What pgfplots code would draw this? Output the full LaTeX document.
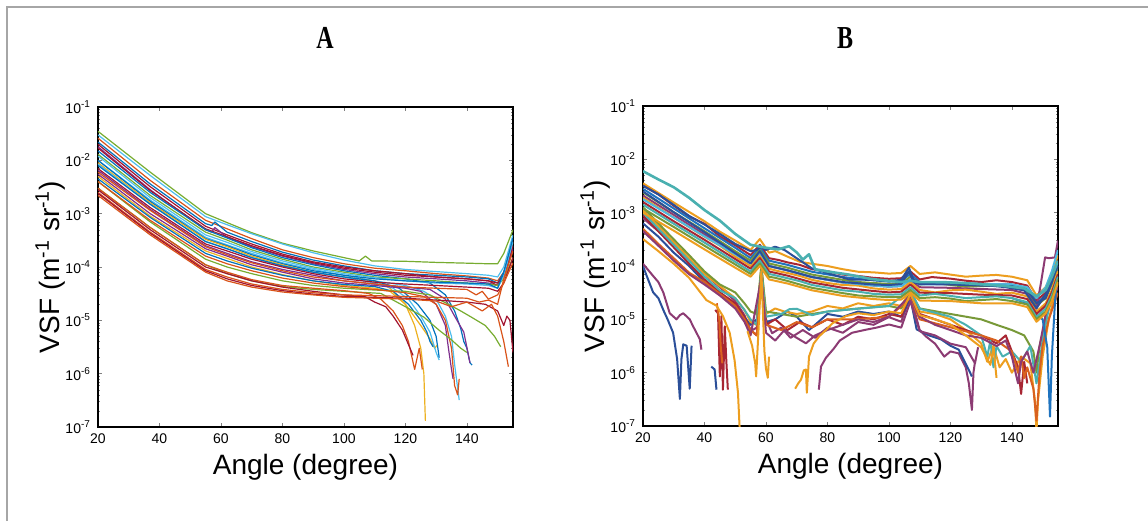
\documentclass[border=0pt]{standalone}
\usepackage{fontspec}
\setmainfont{Liberation Sans}
\newfontfamily\titlefont{Liberation Serif}
\usepackage{pgfplots}
\pgfplotsset{compat=1.18}
\pgfkeys{/pgf/number format/assume math mode=true}

% panel A: matlab default order
\definecolor{mb}{rgb}{0,0.447,0.741}
\definecolor{mo}{rgb}{0.85,0.325,0.098}
\definecolor{my}{rgb}{0.929,0.694,0.125}
\definecolor{mp}{rgb}{0.494,0.184,0.556}
\definecolor{mg}{rgb}{0.466,0.674,0.188}
\definecolor{mc}{rgb}{0.301,0.745,0.933}
\definecolor{mr}{rgb}{0.635,0.078,0.184}
% panel B: darker set
\definecolor{bdb}{rgb}{0.17,0.31,0.60}
\definecolor{bte}{rgb}{0.29,0.69,0.69}
\definecolor{bor}{rgb}{0.93,0.62,0.12}
\definecolor{bpl}{rgb}{0.55,0.23,0.45}
\definecolor{bdr}{rgb}{0.66,0.15,0.20}
\definecolor{bgr}{rgb}{0.47,0.60,0.22}
\definecolor{blb}{rgb}{0.30,0.72,0.88}
\definecolor{bmb}{rgb}{0.12,0.45,0.75}
\definecolor{bor2}{rgb}{0.85,0.38,0.12}

\pgfplotsset{
  vsf/.style={
    width=207.5pt, height=160pt, scale only axis,
    xmin=20, xmax=155, ymin=1e-7, ymax=1e-1,
    xtick={20,40,...,140},
    ytick={1e-7,1e-6,1e-5,1e-4,1e-3,1e-2,1e-1},
    minor ytick={2e-7,3e-7,4e-7,5e-7,6e-7,7e-7,8e-7,9e-7,2e-6,3e-6,4e-6,5e-6,6e-6,7e-6,8e-6,9e-6,2e-5,3e-5,4e-5,5e-5,6e-5,7e-5,8e-5,9e-5,2e-4,3e-4,4e-4,5e-4,6e-4,7e-4,8e-4,9e-4,2e-3,3e-3,4e-3,5e-3,6e-3,7e-3,8e-3,9e-3,2e-2,3e-2,4e-2,5e-2,6e-2,7e-2,8e-2,9e-2},
    yticklabels={10\textsuperscript{-7},10\textsuperscript{-6},10\textsuperscript{-5},10\textsuperscript{-4},10\textsuperscript{-3},10\textsuperscript{-2},10\textsuperscript{-1}},
    tick label style={font=\fontsize{7}{8}\selectfont},
    xlabel={Angle (degree)},
    ylabel={VSF (m\textsuperscript{-1}\ sr\textsuperscript{-1})},
    label style={font=\fontsize{14}{16}\selectfont},
    xlabel style={at={(axis description cs:0.5,-0.125)}, anchor=center},
    ylabel style={at={(axis description cs:-0.115,0.5)}, anchor=center},
    axis line style={line width=0.6pt},
    major tick length=2.2pt, minor tick length=1.2pt,
    unbounded coords=jump,
  }
}

\begin{document}
\begin{tikzpicture}
\path[use as bounding box] (0,0) rectangle (574pt,260.5pt);
\draw[gray!70, line width=1pt] (3.5pt,0) -- (3.5pt,257pt) -- (574pt,257pt);
\node[font=\titlefont\bfseries\fontsize{16}{17}\selectfont, xscale=0.75] at (162.5pt,241.5pt) {A};
\node[font=\titlefont\bfseries\fontsize{16}{17}\selectfont, xscale=0.75] at (422.5pt,241.5pt) {B};

% ---------------- panel A ----------------
\begin{semilogyaxis}[vsf, at={(49pt,47pt)}, anchor=south west,
  every axis plot/.append style={line width=0.6pt, line join=round}]
\addplot[mg] coordinates {(20,3.5e-2)(37,6e-3)(55,1e-3)(62,6.8e-4)(70,4.4e-4)(80,2.8e-4)(90,2e-4)(100,1.5e-4)(105,1.3e-4)(107,1.6e-4)(109,1.3e-4)(120,1.28e-4)(130,1.22e-4)(140,1.18e-4)(147,1.15e-4)(150,1.15e-4)(152,1.8e-4)(155,5e-4)};
\addplot[mc] coordinates {(20,3e-2)(37,5.2e-3)(55,8.8e-4)(62,6.2e-4)(70,4.2e-4)(80,2.7e-4)(90,1.85e-4)(100,1.35e-4)(110,1.05e-4)(120,9e-5)(130,8.2e-5)(140,7.5e-5)(147,7e-5)(150,6.5e-5)(152,1e-4)(155,4e-4)};
\addplot[mo] coordinates {(20,2.6e-2)(37,4.2e-3)(55,7.5e-4)(62,5.2e-4)(70,3.4e-4)(80,2.1e-4)(90,1.5e-4)(100,1.15e-4)(110,9.5e-5)(120,8.5e-5)(130,7.5e-5)(140,6.8e-5)(147,6.2e-5)(150,5.5e-5)(152,8e-5)(155,3e-4)};
\addplot[mb] coordinates {(20,2.2e-2)(37,3.6e-3)(55,6.5e-4)(57,6e-4)(58,7e-4)(62,4.5e-4)(70,3e-4)(80,1.9e-4)(90,1.35e-4)(100,1.05e-4)(110,8.5e-5)(120,7.5e-5)(130,7e-5)(140,6.5e-5)(147,6e-5)(150,5e-5)(152,8e-5)(155,2.5e-4)};
\addplot[mr] coordinates {(20,2e-2)(37,3.2e-3)(55,5.8e-4)(62,4e-4)(70,2.7e-4)(80,1.75e-4)(90,1.25e-4)(100,1e-4)(110,8.5e-5)(120,7.5e-5)(130,6.5e-5)(140,6e-5)(147,5.5e-5)(150,5e-5)(152,7e-5)(155,2e-4)};
\addplot[mp] coordinates {(20,1.8e-2)(37,2.8e-3)(55,5e-4)(57,4.5e-4)(58,5.5e-4)(62,3.6e-4)(70,2.4e-4)(80,1.6e-4)(90,1.15e-4)(100,9e-5)(110,7.5e-5)(120,6.5e-5)(130,6e-5)(140,5.5e-5)(147,5e-5)(150,4.5e-5)(152,7e-5)(155,2.2e-4)};
\addplot[mr] coordinates {(20,1.7e-2)(37,2.7e-3)(55,5.2e-4)(62,3.7e-4)(70,2.5e-4)(80,1.65e-4)(90,1.2e-4)(100,9.5e-5)(110,8e-5)(120,7e-5)(130,6.5e-5)(140,6e-5)(147,5.5e-5)(150,4.5e-5)(152,7e-5)(155,2.5e-4)};
\addplot[mb] coordinates {(20,1.5e-2)(37,2.5e-3)(55,5e-4)(62,3.5e-4)(70,2.3e-4)(80,1.5e-4)(90,1.1e-4)(100,8.5e-5)(110,7e-5)(120,6e-5)(128,5e-5)(133,3e-5)(136,1.5e-5)(138,7e-6)(139,4e-6)(140,3e-6)(141,1.6e-6)(141.7,1.45e-6)};
\addplot[mg] coordinates {(20,1.3e-2)(37,2.2e-3)(55,4.5e-4)(62,3.2e-4)(70,2.1e-4)(80,1.4e-4)(90,1e-4)(100,8e-5)(110,6.5e-5)(120,6e-5)(130,5.5e-5)(140,5e-5)(147,4.8e-5)(150,4.5e-5)(152,6e-5)(155,1.5e-4)};
\addplot[mc] coordinates {(20,1.2e-2)(37,2e-3)(55,4e-4)(62,2.9e-4)(70,1.95e-4)(80,1.3e-4)(90,9.5e-5)(100,7.5e-5)(110,6.3e-5)(120,5.5e-5)(130,5e-5)(140,4.8e-5)(147,4.5e-5)(150,4e-5)(152,7e-5)(155,3e-4)};
\addplot[mc] coordinates {(20,1e-2)(37,1.8e-3)(55,3.6e-4)(62,2.6e-4)(70,1.8e-4)(80,1.2e-4)(90,9e-5)(100,7e-5)(110,5.5e-5)(120,4.5e-5)(126,3.5e-5)(130,2.5e-5)(133,1.2e-5)(135,5e-6)(136,1.5e-6)(137.5,3.2e-7)};
\addplot[mb] coordinates {(20,1e-2)(37,1.7e-3)(55,3.4e-4)(62,2.5e-4)(70,1.7e-4)(80,1.15e-4)(90,8.5e-5)(100,7e-5)(110,6e-5)(120,5.5e-5)(130,5.2e-5)(140,5e-5)(147,4.8e-5)(150,4e-5)(152,8e-5)(155,3.5e-4)};
\addplot[my] coordinates {(20,9e-3)(37,1.6e-3)(55,3.3e-4)(62,2.4e-4)(70,1.6e-4)(80,1.1e-4)(90,8e-5)(100,6.5e-5)(110,5.5e-5)(115,4e-5)(120,2e-5)(125,8e-6)(128,4.5e-6)(129.5,3e-6)(130.5,3.5e-6)};
\addplot[mc] coordinates {(20,8.5e-3)(37,1.5e-3)(55,3e-4)(62,2.2e-4)(70,1.5e-4)(80,1.05e-4)(90,8e-5)(100,6.5e-5)(110,5e-5)(116,4e-5)(121,2.5e-5)(125,1.2e-5)(128,6e-6)(130,2.5e-6)(131,1.8e-6)};
\addplot[mb] coordinates {(20,8e-3)(37,1.5e-3)(55,3e-4)(62,2.2e-4)(70,1.5e-4)(80,1.05e-4)(90,8e-5)(100,6.5e-5)(110,5.5e-5)(118,4e-5)(124,2e-5)(128,1e-5)(130,5e-6)(131,2e-6)};
\addplot[mr] coordinates {(20,7e-3)(37,1.3e-3)(55,2.7e-4)(62,2e-4)(70,1.4e-4)(80,1e-4)(90,7.5e-5)(100,6e-5)(110,5.2e-5)(120,4.8e-5)(130,4.5e-5)(140,4.2e-5)(147,4e-5)(150,3.5e-5)(152,5e-5)(155,1.5e-4)};
\addplot[mp] coordinates {(20,6.5e-3)(37,1.2e-3)(55,2.5e-4)(62,1.8e-4)(70,1.25e-4)(80,9e-5)(90,7e-5)(100,5.5e-5)(110,4.8e-5)(120,4.2e-5)(128,3.8e-5)(133,2.5e-5)(136,1.2e-5)(139,6e-6)(141,1.6e-6)};
\addplot[mo] coordinates {(20,6e-3)(37,1.15e-3)(55,2.4e-4)(62,1.7e-4)(70,1.2e-4)(80,8.5e-5)(90,6.5e-5)(100,5.5e-5)(110,4.8e-5)(120,4.2e-5)(130,4e-5)(140,3.8e-5)(143,3e-5)(145,3.5e-5)(147,2.5e-5)(150,3e-5)(152,5e-5)(155,1.2e-4)};
\addplot[mp] coordinates {(20,5.5e-3)(37,1e-3)(55,2.2e-4)(62,1.6e-4)(70,1.1e-4)(80,8e-5)(90,6e-5)(100,5e-5)(110,4.5e-5)(120,4e-5)(125,3.5e-5)(130,2e-5)(133,8e-6)(134,3e-6)(135,1.2e-6)(135.5,8e-7)};
\addplot[my] coordinates {(20,5e-3)(37,9e-4)(55,2e-4)(62,1.45e-4)(70,1e-4)(80,7.2e-5)(90,5.5e-5)(100,4.5e-5)(110,4e-5)(115,3.5e-5)(120,2e-5)(123,8e-6)(125,3e-6)(126,1e-6)(126.5,1.3e-7)};
\addplot[mb] coordinates {(20,4.5e-3)(37,8.5e-4)(55,1.8e-4)(62,1.3e-4)(70,9.5e-5)(80,7e-5)(90,5.5e-5)(100,4.7e-5)(110,4.3e-5)(116,3.5e-5)(121,2e-5)(125,1e-5)(127,6e-6)(128,4e-6)(129,3.2e-6)};
\addplot[mg] coordinates {(20,4e-3)(37,7e-4)(55,1.4e-4)(62,1e-4)(70,7.5e-5)(80,5.5e-5)(90,4.5e-5)(100,4e-5)(110,3.7e-5)(120,3.5e-5)(128,3e-5)(134,2e-5)(138,1.5e-5)(142,1.1e-5)(146,8e-6)(149,5e-6)(151,3.2e-6)};
\addplot[mo] coordinates {(20,4e-3)(37,7.5e-4)(55,1.6e-4)(62,1.15e-4)(70,8.5e-5)(80,6.2e-5)(90,5e-5)(100,4.3e-5)(110,3.8e-5)(120,3.3e-5)(126,2.8e-5)(130,2e-5)(133,1e-5)(135,3e-6)(136,6e-7)(137,4e-7)(137.5,8e-7)};
\addplot[mg] coordinates {(20,3e-3)(37,5.5e-4)(55,1.1e-4)(62,7.5e-5)(70,5.5e-5)(80,4.3e-5)(90,3.8e-5)(100,3.5e-5)(112,3.2e-5)(120,1.8e-5)(126,1.15e-5)(131,6.5e-6)(135,4.3e-6)(138,3e-6)(140,2.5e-6)};
\addplot[mo] coordinates {(20,3e-3)(37,5.5e-4)(55,1.1e-4)(62,8e-5)(70,5.8e-5)(80,4.5e-5)(90,4e-5)(100,3.6e-5)(108,3.2e-5)(112,2.5e-5)(116,1.5e-5)(119,8e-6)(121,4e-6)(123,1.2e-6)(124.5,3e-6)(125.5,1.2e-6)};
\addplot[mr] coordinates {(20,2.8e-3)(37,5e-4)(55,1e-4)(62,7.5e-5)(70,5.5e-5)(80,4.2e-5)(90,3.5e-5)(100,3e-5)(107,2.75e-5)(110,2.2e-5)(113.6,1.8e-5)(116,1.2e-5)(119,6.6e-6)(121,3.5e-6)(122.5,2.2e-6)};
\addplot[mo] coordinates {(20,2.5e-3)(37,4.5e-4)(55,9e-5)(62,6.5e-5)(70,4.8e-5)(80,3.8e-5)(90,3.3e-5)(100,3e-5)(110,2.9e-5)(120,2.8e-5)(130,2.7e-5)(140,2.6e-5)(144,2.2e-5)(147,2.4e-5)(150,2e-5)(152,6e-5)(155,2e-4)};
\addplot[mr] coordinates {(20,2.4e-3)(37,4.3e-4)(55,8.5e-5)(62,6e-5)(70,4.5e-5)(80,3.6e-5)(90,3.1e-5)(100,2.8e-5)(110,2.7e-5)(120,2.6e-5)(130,2.4e-5)(140,2.2e-5)(146,2e-5)(150,1.5e-5)(152,8e-6)(153,1.2e-5)(154,1e-5)(155,2.5e-6)};
\addplot[mo] coordinates {(20,2.2e-3)(37,4e-4)(55,8e-5)(62,5.5e-5)(70,4.2e-5)(80,3.4e-5)(90,3e-5)(100,2.7e-5)(110,2.6e-5)(120,2.5e-5)(130,2.3e-5)(135,1.8e-5)(140,2.2e-5)(145,1.5e-5)(148,2e-5)(150,1.2e-5)(152,4e-6)(153.5,1.35e-6)};
\end{semilogyaxis}

% ---------------- panel B ----------------
\begin{semilogyaxis}[vsf, at={(321.5pt,47.5pt)}, anchor=south west,
  every axis plot/.append style={line width=1pt, line join=round}]
% lower group
\addplot[bpl] coordinates {(20,7.9e-4)(25,4.5e-4)(30,2.4e-4)(35,1.26e-4)(40,7.1e-5)(45,4e-5)(50,2.2e-5)(53,1.2e-5)(55,6e-6)(57,7e-6)(58.5,9e-5)(60,1e-5)(62,5.5e-6)(65,7e-6)(68,4.5e-6)(72,6.3e-6)(76,4.5e-6)(80,7e-6)(85,5.6e-6)(90,8.9e-6)(95,7.9e-6)(100,1.1e-5)(104,9e-6)(107,2.8e-5)(110,6.3e-6)(112,4.8e-6)(115,3.5e-6)(118,2e-6)(120,2.5e-6)(122.7,2.3e-6)(125,1.26e-6)(126,6.3e-7)(127,2e-7)(127.5,1e-6)(128,1.6e-6)};
\addplot[bdb] coordinates {(20,6.3e-4)(25,3.55e-4)(30,1.78e-4)(35,1e-4)(40,5e-5)(45,3e-5)(50,1.8e-5)(53,1.1e-5)(55,7.9e-6)(57,1e-5)(58.5,7e-5)(60,8.9e-6)(63,1e-5)(67,1.4e-5)(70,1.12e-5)(74,6.3e-6)(77,8.9e-6)(80,1.26e-5)(85,1.12e-5)(90,1.4e-5)(95,1.26e-5)(100,1.4e-5)(104,1.12e-5)(107,2.5e-5)(109,6.5e-6)(113,5e-6)(117,4.2e-6)(120,3.2e-6)(122.7,2.7e-6)(125.9,1.15e-6)(127,8.5e-7)};
\addplot[bor] coordinates {(20,1.12e-3)(25,5.6e-4)(30,2.8e-4)(35,1.4e-4)(40,7.1e-5)(45,4.2e-5)(50,2.5e-5)(53,1.5e-5)(55,8.9e-6)(57,7.9e-6)(58.5,1e-4)(60,1.26e-5)(63,1.6e-5)(66,1.4e-5)(70,1.26e-5)(75,1.4e-5)(80,1.78e-5)(85,1.6e-5)(90,2e-5)(95,1.78e-5)(100,2e-5)(104,1.78e-5)(107,3.55e-5)(110,1.4e-5)(115,1.26e-5)(120,1e-5)(125,6.3e-6)(130,3.55e-6)(132,1.6e-6)(134,3.2e-6)(136,1.26e-6)(138,1.8e-6)(140,1e-6)(143,2e-6)(146,1.5e-6)(147.5,3e-7)(148,8e-8)(148.5,3e-7)(150,2e-6)(152,1e-5)(155,5e-5)};
\addplot[bdr] coordinates {(20,8.9e-4)(25,4.5e-4)(30,2.24e-4)(35,1.1e-4)(40,5.6e-5)(45,3.2e-5)(50,2e-5)(53,1.1e-5)(55,6.3e-6)(57,5e-6)(58.5,8e-5)(60,7.9e-6)(63,1e-5)(67,6.3e-6)(71,8.9e-6)(75,7.1e-6)(80,1e-5)(85,7.9e-6)(90,1.12e-5)(95,1e-5)(100,1.26e-5)(104,1.12e-5)(107,3.16e-5)(110,1.26e-5)(115,1e-5)(120,7.9e-6)(125,6.3e-6)(130,5e-6)(135,3.55e-6)(138,5e-6)(140,2.5e-6)(142,1.26e-6)(143,4e-7)(144,1.6e-6)(145,6.3e-7)};
\addplot[bgr] coordinates {(20,1.26e-3)(25,6.3e-4)(30,3.16e-4)(35,1.6e-4)(40,7.9e-5)(45,4.5e-5)(50,3.2e-5)(53,2e-5)(55,1.4e-5)(57,1.26e-5)(58.5,1e-4)(60,1.4e-5)(65,1.26e-5)(70,1.12e-5)(75,1.26e-5)(80,1.4e-5)(90,1.6e-5)(100,1.78e-5)(104,1.6e-5)(107,3.16e-5)(110,1.6e-5)(120,1.26e-5)(130,1e-5)(135,7.9e-6)(140,6.3e-6)(144,5e-6)(147,2.5e-6)(148,1e-6)(149,3.16e-6)(151,1e-5)(153,2.5e-5)(155,6.3e-5)};
\addplot[bte] coordinates {(20,1e-3)(25,5e-4)(30,2.5e-4)(35,1.26e-4)(40,6.3e-5)(45,3.5e-5)(50,2.5e-5)(53,1.5e-5)(55,1e-5)(57,7.9e-6)(58.5,8e-5)(60,1.12e-5)(65,1.26e-5)(67.6,1.55e-5)(70,1.58e-5)(75,1.2e-5)(80,1.4e-5)(90,1.58e-5)(100,1.78e-5)(107,3.55e-5)(110,1.58e-5)(120,1.12e-5)(125,7.9e-6)(130,5e-6)(132,2e-6)(133,4e-6)(134,1.26e-6)(135,3.16e-6)(137,2e-6)(140,2.5e-6)(143,1.6e-6)(146,3.16e-6)(148,6.3e-7)(150,4e-6)(152,1.6e-5)(155,5e-5)};
\addplot[bor2] coordinates {(20,5e-4)(25,2.6e-4)(30,1.4e-4)(35,7.5e-5)(40,5e-5)(45,3e-5)(50,1.8e-5)(53,1e-5)(55,6.3e-6)(57,5e-6)(58.5,6e-5)(60,7.9e-6)(65,6.3e-6)(70,8.9e-6)(75,7.1e-6)(80,1e-5)(90,1e-5)(100,1.12e-5)(107,2.5e-5)(110,1e-5)(120,7.1e-6)(130,5e-6)(135,4e-6)(140,2.5e-6)(142,1e-6)(143,2e-6)(144,7.9e-7)(145,1.26e-6)(147,5e-7)(148,1.26e-7)(149,1e-6)(150,3.16e-6)(152,1e-5)(155,3.16e-5)};
\addplot[bpl] coordinates {(20,4.5e-4)(25,2.4e-4)(30,1.26e-4)(35,7e-5)(40,4.5e-5)(45,2.8e-5)(50,1.6e-5)(53,9e-6)(55,5e-6)(58.5,6e-5)(60,5.6e-6)(63,4e-6)(66,6.3e-6)(70,4.5e-6)(73,3.55e-6)(76,5e-6)(80,6.3e-6)(85,7.9e-6)(90,1e-5)(95,8.9e-6)(100,1.12e-5)(107,2.8e-5)(110,1.12e-5)(115,7.9e-6)(120,6.3e-6)(125,5e-6)(130,4.5e-6)(135,3.16e-6)(138,4e-6)(140,2e-6)(142,6.3e-7)(143,1.6e-6)(145,2.5e-6)(147,1e-6)(149,3.16e-6)(151,1.26e-5)(155,4e-5)};
% low starters and fragments
\addplot[bdb] coordinates {(20,1e-4)(21,7e-5)(23.3,3.2e-5)(25,2.5e-5)(26.6,1.5e-5)(28,1e-5)(29.8,5.6e-6)(31.1,1.8e-6)(32,3.2e-7)(32.5,1.8e-6)(33.1,3.4e-6)(34.2,3.2e-6)(35.2,5e-7)(35.8,3.2e-6)(38,nan)(42.2,1.3e-6)(43.3,1.15e-6)(43.9,4.8e-7)};
\addplot[bpl] coordinates {(20,1.1e-4)(22,8e-5)(23.3,6.5e-5)(25,5e-5)(26.6,3.2e-5)(28.7,1.3e-5)(30.9,1e-5)(32,1.2e-5)(33.1,1.3e-5)(35.2,1e-5)(36.3,7.4e-6)(37.4,5.6e-6)(38.5,4.2e-6)(39,2.7e-6)};
\addplot[bdr] coordinates {(43.5,1.5e-5)(44.4,1.3e-5)(45,8.5e-7)(45.5,1.15e-5)(46,4.8e-7)(46.6,7.4e-6)(47.1,1.7e-6)(47.6,4.8e-7)};
\addplot[bor2] coordinates {(44,2e-5)(44.8,1e-5)(45.3,3e-6)(45.8,1.5e-6)};
\addplot[bor] coordinates {(20,3.2e-4)(25,1.9e-4)(30,1.1e-4)(35,6e-5)(40.6,2.3e-5)(43.9,1.8e-5)(46,1.15e-5)(48.2,5.6e-6)(49.8,1.7e-6)(50.9,4.2e-7)(51.4,1e-7)(51.6,5e-8)};
\addplot[bor] coordinates {(54,6e-6)(55.5,3.2e-6)(56.5,1.5e-6)(56.8,8.5e-7)(57.3,3e-6)(58.5,8e-5)(59.5,2.5e-6)(60,1.2e-6)(60.6,8e-7)(61,2e-6)};
\addplot[bor] coordinates {(69.5,5e-7)(70.5,6.3e-7)(71.4,7.4e-7)(72.3,1.1e-6)(73,1.15e-6)(73.3,4.2e-7)(74,2e-6)(75.5,3.5e-6)(77.3,4.8e-6)(79.5,6.3e-6)(81.7,8.5e-6)(84,1e-5)(86,1.15e-5)(90,1.3e-5)(95,1.2e-5)(100,1.4e-5)(104,1.3e-5)(107,3e-5)(110,1.2e-5)(115,1e-5)(120,8e-6)(125,5e-6)(130,3e-6)(133,1.4e-6)(134,3e-6)(135,8e-7)};
\addplot[bpl] coordinates {(77.2,4.8e-7)(77.9,1.3e-6)(79.5,1.9e-6)(82,2.8e-6)(84,4e-6)(88,5.6e-6)(92,6.3e-6)(96,7e-6)(100,8e-6)(104,7e-6)(107,2.2e-5)(110,6e-6)(115,5e-6)(120,3.5e-6)(125,3e-6)(128,1.5e-6)(129,3e-6)};
\addplot[bmb] coordinates {(140,2.5e-5)(145,2e-5)(148,1.2e-5)(150,1e-5)(151.5,3e-6)(152.4,1.5e-7)(153,2e-6)(154,2e-5)(155,1e-4)};
% upper group
\addplot[bor] coordinates {(20,3.55e-3)(30,1.55e-3)(40,6.9e-4)(45,4.4e-4)(50,3e-4)(55,2e-4)(58,3.2e-4)(61,1.78e-4)(63,1.9e-4)(67,1.5e-4)(71,1.2e-4)(75,1.1e-4)(80,1e-4)(85,8.7e-5)(90,7.8e-5)(95,7.6e-5)(100,7.2e-5)(104,7.4e-5)(107,1e-4)(110,7.1e-5)(115,7.6e-5)(120,6.9e-5)(125,6.3e-5)(130,6.6e-5)(135,6.8e-5)(140,6.3e-5)(145,5.4e-5)(148,2.8e-5)(151,4e-5)(153,7.1e-5)(155,1.6e-4)};
\addplot[bdr] coordinates {(20,3.2e-3)(25,2.2e-3)(30,1.35e-3)(35,8.5e-4)(40,6.2e-4)(45,3.6e-4)(50,2.45e-4)(55,1.6e-4)(58,2.5e-4)(61,1.4e-4)(64,1.3e-4)(67,1.17e-4)(71,1.05e-4)(75,8.7e-5)(80,8e-5)(85,6.9e-5)(90,6.5e-5)(95,6e-5)(100,5.75e-5)(104,5.9e-5)(107,7.9e-5)(110,5.6e-5)(114,6.2e-5)(120,5.8e-5)(125,5.3e-5)(130,5e-5)(135,5.4e-5)(140,5e-5)(145,4.3e-5)(148,2.24e-5)(151,3.16e-5)(153,5.6e-5)(155,1.26e-4)};
\addplot[bmb] coordinates {(20,2.8e-3)(30,1.2e-3)(40,5.1e-4)(50,2.2e-4)(55,1.41e-4)(58,2.24e-4)(61,1.26e-4)(67,1.05e-4)(75,7.8e-5)(85,6.2e-5)(95,5.4e-5)(100,5.1e-5)(104,5.3e-5)(107,7.1e-5)(110,5e-5)(120,4.9e-5)(130,4.6e-5)(140,4.5e-5)(145,3.8e-5)(148,2e-5)(151,2.8e-5)(153,5e-5)(155,1.12e-4)};
\addplot[bgr] coordinates {(20,2.4e-3)(30,1.02e-3)(40,4.5e-4)(50,1.9e-4)(55,1.26e-4)(58,2e-4)(61,1.12e-4)(63,1.05e-4)(67,9.3e-5)(71,8e-5)(75,6.9e-5)(85,5.5e-5)(90,5e-5)(95,4.8e-5)(100,4.6e-5)(104,4.7e-5)(107,6.3e-5)(110,4.5e-5)(115,4.8e-5)(120,4.4e-5)(125,4.1e-5)(130,4.2e-5)(135,4.3e-5)(140,4e-5)(145,3.4e-5)(148,1.8e-5)(151,2.5e-5)(153,4.5e-5)(155,1e-4)};
\addplot[bpl] coordinates {(20,2.1e-3)(30,9.1e-4)(40,3.9e-4)(50,1.7e-4)(55,1.12e-4)(58,1.78e-4)(61,1e-4)(67,8.3e-5)(75,6.2e-5)(85,4.9e-5)(95,4.3e-5)(100,4.1e-5)(104,4.2e-5)(107,5.6e-5)(110,4e-5)(120,3.9e-5)(130,3.7e-5)(140,3.55e-5)(145,3e-5)(148,1.6e-5)(149.5,5e-5)(150.8,1.45e-4)(152,1.4e-4)(154,1.45e-4)(155,3e-4)};
\addplot[bor] coordinates {(20,1.9e-3)(30,8.1e-4)(40,3.55e-4)(45,2.4e-4)(50,1.5e-4)(55,1e-4)(58,1.58e-4)(61,8.9e-5)(64,8e-5)(67,7.4e-5)(71,6.5e-5)(75,5.5e-5)(80,4.8e-5)(85,4.4e-5)(90,4.3e-5)(95,3.8e-5)(100,3.6e-5)(104,3.7e-5)(107,5e-5)(110,3.55e-5)(115,3.2e-5)(120,3.5e-5)(125,3.6e-5)(130,3.3e-5)(135,3e-5)(140,3.16e-5)(145,2.7e-5)(148,1.4e-5)(151,2e-5)(153,3.55e-5)(155,8e-5)};
\addplot[blb] coordinates {(20,1.78e-3)(30,8.1e-4)(40,3.6e-4)(50,1.66e-4)(55,1.12e-4)(58,1.78e-4)(61,1e-4)(67,8.3e-5)(75,6.2e-5)(85,4.9e-5)(95,4.3e-5)(100,4.1e-5)(104,4.2e-5)(107,5.6e-5)(110,4.5e-5)(120,4.6e-5)(130,4.6e-5)(140,4.5e-5)(145,4e-5)(148,2.5e-5)(151,4e-5)(153,8e-5)(155,2e-4)};
\addplot[bdr] coordinates {(20,1.58e-3)(30,6.9e-4)(40,3.1e-4)(50,1.35e-4)(55,8.9e-5)(58,1.41e-4)(61,7.9e-5)(67,6.6e-5)(75,4.9e-5)(85,3.9e-5)(95,3.4e-5)(100,3.2e-5)(104,3.3e-5)(107,4.5e-5)(110,3.16e-5)(120,3.1e-5)(130,2.9e-5)(140,2.8e-5)(145,2.4e-5)(148,1.26e-5)(151,1.8e-5)(153,3.2e-5)(155,7e-5)};
\addplot[bte] coordinates {(20,1.41e-3)(30,6.2e-4)(40,2.75e-4)(50,1.2e-4)(55,7.9e-5)(58,1.26e-4)(61,7.1e-5)(64,6.5e-5)(67,5.9e-5)(71,5.2e-5)(75,4.4e-5)(85,3.5e-5)(90,3.3e-5)(95,3e-5)(100,2.9e-5)(104,2.95e-5)(107,4e-5)(110,2.8e-5)(115,3e-5)(120,2.75e-5)(125,2.5e-5)(130,2.6e-5)(135,2.7e-5)(140,2.5e-5)(145,2.1e-5)(148,1.1e-5)(151,1.6e-5)(153,2.8e-5)(155,6.3e-5)};
\addplot[bgr] coordinates {(20,1.2e-3)(30,5.4e-4)(40,2.4e-4)(50,1.07e-4)(55,7.1e-5)(58,1.12e-4)(61,6.3e-5)(63,6e-5)(67,5.25e-5)(71,4.5e-5)(75,3.9e-5)(85,3.1e-5)(90,2.8e-5)(95,2.7e-5)(100,2.6e-5)(104,2.65e-5)(107,3.55e-5)(110,2.5e-5)(115,2.6e-5)(120,2.45e-5)(125,2.2e-5)(130,2.3e-5)(135,2.4e-5)(140,2.2e-5)(145,1.9e-5)(148,1e-5)(151,1.4e-5)(153,2.5e-5)(155,5.6e-5)};
\addplot[bdb] coordinates {(20,2.5e-3)(30,1.02e-3)(40,4.3e-4)(50,1.74e-4)(55,1.12e-4)(58,1.9e-4)(61,1e-4)(67,8.3e-5)(75,6.2e-5)(85,5e-5)(95,4.5e-5)(100,4.4e-5)(104,4.6e-5)(106.5,8e-5)(108,5e-5)(110,4.6e-5)(120,4.5e-5)(130,4.3e-5)(140,4.2e-5)(145,3.5e-5)(148,2e-5)(151,2.5e-5)(153,5e-5)(155,1.1e-4)};
\addplot[bor] coordinates {(20,1e-3)(30,4.6e-4)(40,2.05e-4)(50,9.3e-5)(55,6.3e-5)(58,1e-4)(61,5.6e-5)(67,4.7e-5)(75,3.5e-5)(85,2.75e-5)(95,2.4e-5)(100,2.3e-5)(104,2.35e-5)(107,3.2e-5)(110,2.25e-5)(120,2.2e-5)(130,2e-5)(140,2e-5)(145,1.7e-5)(148,9e-6)(151,1.3e-5)(153,2.2e-5)(155,5e-5)};
\addplot[bdb] coordinates {(20,3.2e-3)(25,2.2e-3)(30,1.4e-3)(35,8.7e-4)(40,6e-4)(45,4e-4)(50,2.6e-4)(55,1.9e-4)(57,2e-4)(58.5,2.3e-4)(60,2e-4)(63,2.3e-4)(66,2e-4)(70,1.4e-4)(75,9e-5)(80,7.4e-5)(87,5.6e-5)(94,5.5e-5)(100,5.2e-5)(104,5.5e-5)(106.5,9.3e-5)(108,5.5e-5)(110,5e-5)(117,5e-5)(124,4.6e-5)(131,4.4e-5)(138,4e-5)(144,3.5e-5)(148,1.6e-5)(151,3e-5)(153,6e-5)(155,1e-4)};
\addplot[bte, line width=1.3pt] coordinates {(20,6e-3)(25,4.2e-3)(30,3e-3)(35,1.9e-3)(40,1.12e-3)(45,7.1e-4)(50,4e-4)(55,2.5e-4)(60,2.2e-4)(64,2.05e-4)(67.5,2.35e-4)(70,1.8e-4)(72,1.32e-4)(74,1.66e-4)(76,8.7e-5)(80,7.9e-5)(87,6.9e-5)(94,5.75e-5)(100,5.25e-5)(104,5e-5)(107,5.3e-5)(110,5e-5)(117,5e-5)(124,4.8e-5)(131,4.5e-5)(138,4.2e-5)(144,3.8e-5)(148,2.7e-5)(151,3.55e-5)(153,6.3e-5)(155,1.26e-4)};
\end{semilogyaxis}
\end{tikzpicture}
\end{document}
